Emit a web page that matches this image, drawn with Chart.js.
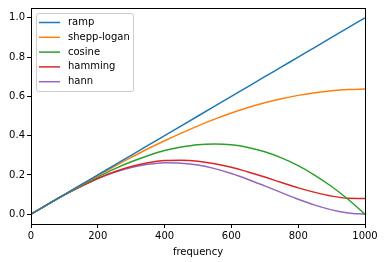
<!DOCTYPE html>
<html>
<head>
<meta charset="UTF-8">
<script src="https://cdn.jsdelivr.net/npm/chart.js"></script>
<style>
  html, body { margin: 0; padding: 0; background: #fff; }
  #wrap { width: 384px; height: 262px; }
</style>
</head>
<body>
<div id="wrap"><canvas id="c" width="384" height="262"></canvas></div>
<script>
// frequency samples
const freq = [0, 50, 100, 150, 200, 250, 300, 350, 400, 450, 500, 550, 600, 650, 700, 750, 800, 850, 900, 950, 1000];
const ramp = [0, 0.05, 0.1, 0.15, 0.2, 0.25, 0.3, 0.35, 0.4, 0.45, 0.5, 0.55, 0.6, 0.65, 0.7, 0.75, 0.8, 0.85, 0.9, 0.95, 1.0];
const sheppLogan = [0, 0.050, 0.100, 0.149, 0.197, 0.244, 0.289, 0.333, 0.374, 0.413, 0.450, 0.484, 0.515, 0.543, 0.567, 0.588, 0.605, 0.619, 0.629, 0.635, 0.637];
const cosine = [0, 0.050, 0.099, 0.146, 0.190, 0.231, 0.267, 0.298, 0.324, 0.342, 0.354, 0.357, 0.353, 0.340, 0.318, 0.287, 0.247, 0.198, 0.141, 0.075, 0];
const hamming = [0, 0.050, 0.098, 0.142, 0.182, 0.216, 0.243, 0.262, 0.273, 0.275, 0.270, 0.257, 0.239, 0.215, 0.189, 0.161, 0.134, 0.111, 0.092, 0.081, 0.080];
const hann = [0, 0.050, 0.098, 0.142, 0.181, 0.213, 0.238, 0.254, 0.262, 0.260, 0.250, 0.232, 0.207, 0.177, 0.144, 0.110, 0.076, 0.046, 0.022, 0.006, 0];

const seriesNames = ['ramp', 'shepp-logan', 'cosine', 'hamming', 'hann'];
const seriesValues = [ramp, sheppLogan, cosine, hamming, hann];
const colors = ['#1f77b4', '#ff7f0e', '#2ca02c', '#d62728', '#9467bd'];

const FONT = '"DejaVu Sans", sans-serif';

const datasets = seriesNames.map((name, i) => ({
  label: name,
  data: freq.map((f, j) => ({ x: f, y: seriesValues[i][j] })),
  borderColor: colors[i],
  backgroundColor: colors[i],
  borderWidth: 1.5,
  pointRadius: 0,
  cubicInterpolationMode: 'monotone',
  fill: false
}));

// frame around the plot + legend inside the axes, like matplotlib
const framePlugin = {
  id: 'frame',
  afterDraw(chart) {
    const ctx = chart.ctx;
    const a = chart.chartArea;
    ctx.save();
    ctx.strokeStyle = '#000';
    ctx.lineWidth = 1;
    ctx.strokeRect(Math.round(a.left) + 0.5, Math.round(a.top) + 0.5,
                   Math.round(a.right - a.left), Math.round(a.bottom - a.top));

    // legend
    const lx = a.left + 5, ly = a.top + 5, lw = 97, lh = 78;
    ctx.fillStyle = 'rgba(255,255,255,0.8)';
    ctx.strokeStyle = '#cccccc';
    ctx.beginPath();
    ctx.roundRect(lx + 0.5, ly + 0.5, lw, lh, 2);
    ctx.fill();
    ctx.stroke();
    ctx.font = '10px ' + FONT;
    ctx.textBaseline = 'middle';
    chart.data.datasets.forEach((ds, i) => {
      const y = ly + 9.5 + i * 14.8;
      ctx.strokeStyle = ds.borderColor;
      ctx.lineWidth = 1.5;
      ctx.beginPath();
      ctx.moveTo(lx + 3, y);
      ctx.lineTo(lx + 24, y);
      ctx.stroke();
      ctx.fillStyle = '#000';
      ctx.fillText(ds.label, lx + 32, y);
    });
    ctx.restore();
  }
};

new Chart(document.getElementById('c'), {
  type: 'line',
  data: { datasets },
  options: {
    responsive: false,
    animation: false,
    layout: { padding: { top: 6, right: 19, left: 0, bottom: 0 } },
    plugins: { legend: { display: false }, tooltip: { enabled: false } },
    scales: {
      x: {
        type: 'linear',
        min: 0, max: 1000,
        ticks: { stepSize: 200, color: '#000', font: { family: FONT, size: 10 }, maxRotation: 0, padding: 2, callback: v => String(v) },
        grid: { drawOnChartArea: false, tickLength: 4, color: '#000' },
        border: { color: '#000' },
        title: { display: true, text: 'frequency', color: '#000', font: { family: FONT, size: 10 }, padding: { top: 1 } },
        afterFit(s) { s.height = 38; }
      },
      y: {
        min: -0.05, max: 1.05,
        afterBuildTicks(s) { s.ticks = [0, 0.2, 0.4, 0.6, 0.8, 1.0].map(v => ({ value: v })); },
        ticks: { color: '#000', font: { family: FONT, size: 10 }, padding: 2, callback: v => v.toFixed(1) },
        grid: { drawOnChartArea: false, tickLength: 4, color: '#000' },
        border: { color: '#000' },
        afterFit(s) { s.width = 31; }
      }
    }
  },
  plugins: [framePlugin]
});
</script>
</body>
</html>
